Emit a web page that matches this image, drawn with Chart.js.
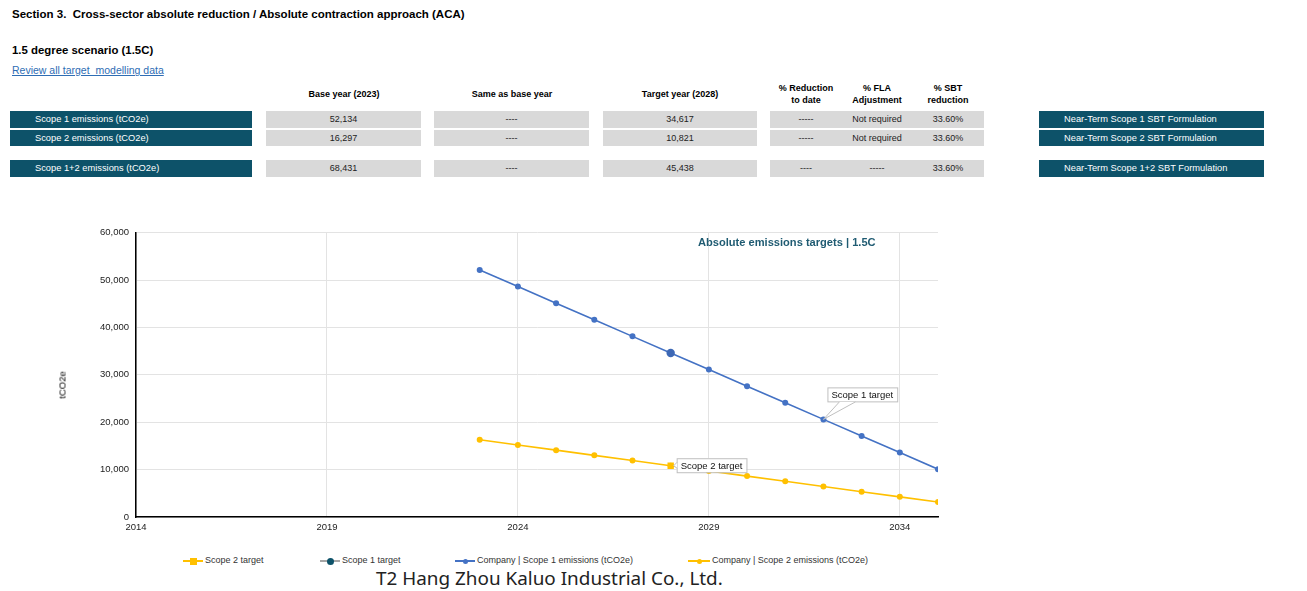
<!DOCTYPE html>
<html>
<head>
<meta charset="utf-8">
<script src="https://cdn.jsdelivr.net/npm/chart.js@4.4.1/dist/chart.umd.min.js"></script>
<style>
    body { margin: 0; background: #fff; font-family: "Liberation Sans", Arial, sans-serif; color: #000; }
    #page { position: relative; width: 1307px; height: 591px; overflow: hidden; }
    .abs { position: absolute; white-space: nowrap; }
    .h1 { left: 12px; top: 8px; font-size: 11.5px; font-weight: bold; }
    .h2 { left: 12px; top: 44px; font-size: 11.4px; font-weight: bold; }
    .link { left: 12px; top: 64px; font-size: 10.5px; color: #2e6db4; text-decoration: underline; }
    .colhead { font-size: 9px; font-weight: bold; text-align: center; line-height: 12px; transform: translateX(-50%); }
    .teal { background: #0d5269; color: #fff; font-size: 9.3px; box-sizing: border-box; padding-left: 25px; }
    .grey { background: #d9d9d9; color: #222; font-size: 9px; text-align: center; }
    .cell { font-size: 9px; color: #222; transform: translateX(-50%); }
    #chartBox { position: absolute; left: 0; top: 220px; width: 960px; height: 330px; }
    .ctitle { left: 698px; top: 236px; font-size: 11.1px; font-weight: bold; color: #1f5b72; }
    .ytitle { left: 62px; top: 385px; font-size: 9.5px; color: #000; transform: translate(-50%, -50%) rotate(-90deg); }
    .leg { top: 555px; font-size: 9px; color: #333; height: 12px; }
    .leg .ln { position: absolute; top: 5px; height: 2px; }
    .leg .mk { position: absolute; }
    .leg .tx { position: absolute; top: 0; }
    .footer { left: 376px; top: 565px; font-family: "Noto Sans", sans-serif; font-size: 18.9px; color: #222; }
</style>
</head>
<body>
<div id="page">
    <div class="abs h1">Section 3.&nbsp; Cross-sector absolute reduction / Absolute contraction approach (ACA)</div>
    <div class="abs h2">1.5 degree scenario (1.5C)</div>
    <div class="abs link">Review all target&nbsp; modelling data</div>
    <div id="chartBox"><canvas id="emissionsChart"></canvas></div>
    <div class="abs ctitle">Absolute emissions targets | 1.5C</div>
    <div class="abs ytitle">tCO2e</div>
    <div class="abs footer">T2 Hang Zhou Kaluo Industrial Co., Ltd.</div>
</div>

<script>
// Summary table
const rowLabels = ['Scope 1 emissions (tCO2e)', 'Scope 2 emissions (tCO2e)', 'Scope 1+2 emissions (tCO2e)'];
const baseYearValues = ['52,134', '16,297', '68,431'];
const sameAsBaseValues = ['----', '----', '----'];
const targetYearValues = ['34,617', '10,821', '45,438'];
const reductionToDate = ['-----', '-----', '----'];
const flaAdjustment = ['Not required', 'Not required', '-----'];
const sbtReduction = ['33.60%', '33.60%', '33.60%'];
const formulationLabels = ['Near-Term Scope 1 SBT Formulation', 'Near-Term Scope 2 SBT Formulation', 'Near-Term Scope 1+2 SBT Formulation'];

// Chart data
const years = [2023, 2024, 2025, 2026, 2027, 2028, 2029, 2030, 2031, 2032, 2033, 2034, 2035];
const scope1Emissions = [52134, 48631, 45127, 41624, 38120, 34617, 31113, 27610, 24106, 20603, 17099, 13596, 10092];
const scope2Emissions = [16297, 15202, 14107, 13011, 11916, 10821, 9726, 8631, 7535, 6440, 5345, 4250, 3154];
const targetYear = 2028;
const scope1Target = 34617;
const scope2Target = 10821;
const xTicks = [2014, 2019, 2024, 2029, 2034];
const seriesNames = ['Scope 2 target', 'Scope 1 target', 'Company | Scope 1 emissions (tCO2e)', 'Company | Scope 2 emissions (tCO2e)'];

const BLUE = '#4472c4';
const YELLOW = '#ffc000';
const TEAL = '#0d5269';

document.addEventListener('DOMContentLoaded', function() {
    const page = document.getElementById('page');

    function addDiv(cls, text, style) {
        const d = document.createElement('div');
        d.className = 'abs ' + cls;
        d.innerHTML = text;
        Object.assign(d.style, style);
        page.appendChild(d);
        return d;
    }

    // column headers
    addDiv('colhead', 'Base year (2023)', { left: '344px', top: '88px' });
    addDiv('colhead', 'Same as base year', { left: '512px', top: '88px' });
    addDiv('colhead', 'Target year (2028)', { left: '680px', top: '88px' });
    addDiv('colhead', '% Reduction<br>to date', { left: '806px', top: '82px' });
    addDiv('colhead', '% FLA<br>Adjustment', { left: '877px', top: '82px' });
    addDiv('colhead', '% SBT<br>reduction', { left: '948px', top: '82px' });

    const rowTops = [111, 130, 160];
    const rowHeights = [17, 16, 17];
    rowLabels.forEach(function(label, i) {
        const top = rowTops[i], h = rowHeights[i];
        const lh = { top: top + 'px', height: h + 'px', lineHeight: h + 'px' };
        addDiv('teal', label, Object.assign({ left: '10px', width: '242px' }, lh));
        addDiv('grey', baseYearValues[i], Object.assign({ left: '266px', width: '155px' }, lh));
        addDiv('grey', sameAsBaseValues[i], Object.assign({ left: '434px', width: '155px' }, lh));
        addDiv('grey', targetYearValues[i], Object.assign({ left: '603px', width: '154px' }, lh));
        addDiv('grey', '', Object.assign({ left: '770px', width: '214px' }, lh));
        addDiv('cell', reductionToDate[i], Object.assign({ left: '806px' }, lh));
        addDiv('cell', flaAdjustment[i], Object.assign({ left: '877px' }, lh));
        addDiv('cell', sbtReduction[i], Object.assign({ left: '948px' }, lh));
        addDiv('teal', formulationLabels[i], Object.assign({ left: '1039px', width: '225px' }, lh));
    });

    // legend (line + marker swatches)
    const legendItems = [
        { x: 183, line: YELLOW, marker: YELLOW, shape: 'rect', size: 7 },
        { x: 320, line: '#a6a6a6', marker: TEAL, shape: 'circle', size: 7 },
        { x: 455, line: BLUE, marker: BLUE, shape: 'circle', size: 5 },
        { x: 688, line: YELLOW, marker: YELLOW, shape: 'circle', size: 5 }
    ];
    legendItems.forEach(function(item, i) {
        const wrap = addDiv('leg', '', { left: item.x + 'px' });
        const w = i === 3 ? 22 : 20;
        const ln = document.createElement('div');
        ln.className = 'ln';
        Object.assign(ln.style, { left: '0px', width: w + 'px', background: item.line });
        const mk = document.createElement('div');
        mk.className = 'mk';
        Object.assign(mk.style, {
            left: (w / 2 - item.size / 2) + 'px', top: (6 - item.size / 2) + 'px',
            width: item.size + 'px', height: item.size + 'px', background: item.marker,
            borderRadius: item.shape === 'circle' ? '50%' : '0'
        });
        const tx = document.createElement('div');
        tx.className = 'tx';
        tx.style.left = (w + 2) + 'px';
        tx.textContent = seriesNames[i];
        wrap.appendChild(ln); wrap.appendChild(mk); wrap.appendChild(tx);
    });

    // callout labels drawn on top of the points
    const callouts = [
        { text: 'Scope 1 target', x: 2032, y: scope1Emissions[years.indexOf(2032)], dx: 4, dy: -32, wedge: 'below' },
        { text: 'Scope 2 target', x: targetYear, y: scope2Target, dx: 6, dy: -7.5, wedge: 'left' }
    ];
    const calloutPlugin = {
        id: 'callouts',
        afterDatasetsDraw(chart) {
            const ctx = chart.ctx;
            const xs = chart.scales.x, ys = chart.scales.y;
            ctx.save();
            ctx.font = '9.5px "Liberation Sans", Arial, sans-serif';
            callouts.forEach(function(c) {
                const ax = xs.getPixelForValue(c.x), ay = ys.getPixelForValue(c.y);
                const bx = ax + c.dx, by = ay + c.dy;
                const bw = ctx.measureText(c.text).width + 8, bh = 14;
                ctx.fillStyle = '#fff';
                ctx.strokeStyle = '#bfbfbf';
                ctx.lineWidth = 1;
                ctx.fillRect(bx, by, bw, bh);
                ctx.strokeRect(bx + 0.5, by + 0.5, bw, bh);
                ctx.beginPath();
                if (c.wedge === 'below') {
                    ctx.moveTo(bx + 12, by + bh + 0.5);
                    ctx.lineTo(ax, ay);
                    ctx.lineTo(bx + 28, by + bh + 0.5);
                } else {
                    ctx.moveTo(bx + 0.5, by + 4);
                    ctx.lineTo(ax + 3, ay);
                    ctx.lineTo(bx + 0.5, by + 10);
                }
                ctx.fill();
                ctx.stroke();
                ctx.fillStyle = '#111';
                ctx.textBaseline = 'middle';
                ctx.fillText(c.text, bx + 4, by + bh / 2 + 1);
            });
            ctx.restore();
        }
    };

    const toPoints = function(vals) { return years.map(function(y, i) { return { x: y, y: vals[i] }; }); };

    const ctx = document.getElementById('emissionsChart').getContext('2d');
    new Chart(ctx, {
        type: 'line',
        data: {
            datasets: [
                {
                    label: seriesNames[0],
                    data: [{ x: targetYear, y: scope2Target }],
                    showLine: false,
                    pointStyle: 'rect',
                    pointRadius: 4.5,
                    pointBorderWidth: 0,
                    backgroundColor: YELLOW,
                    borderColor: YELLOW
                },
                {
                    label: seriesNames[1],
                    data: [{ x: targetYear, y: scope1Target }],
                    showLine: false,
                    pointRadius: 4.2,
                    pointBorderWidth: 0,
                    backgroundColor: '#3d68b5',
                    borderColor: '#3d68b5'
                },
                {
                    label: seriesNames[2],
                    data: toPoints(scope1Emissions),
                    borderColor: BLUE,
                    backgroundColor: BLUE,
                    borderWidth: 1.6,
                    pointRadius: 3,
                    pointBorderWidth: 0
                },
                {
                    label: seriesNames[3],
                    data: toPoints(scope2Emissions),
                    borderColor: YELLOW,
                    backgroundColor: YELLOW,
                    borderWidth: 1.6,
                    pointRadius: 3,
                    pointBorderWidth: 0
                }
            ]
        },
        options: {
            responsive: true,
            maintainAspectRatio: false,
            animation: false,
            layout: { padding: { top: 11, right: 22, left: 0, bottom: 0 } },
            plugins: {
                legend: { display: false },
                tooltip: { enabled: false }
            },
            scales: {
                x: {
                    type: 'linear',
                    min: 2014,
                    max: 2035,
                    afterBuildTicks: function(scale) { scale.ticks = xTicks.map(function(v) { return { value: v }; }); },
                    afterFit: function(scale) { scale.height = 33; },
                    grid: { color: '#e3e3e3', drawTicks: false },
                    border: { color: '#000', width: 1.5 },
                    ticks: {
                        padding: 5,
                        color: '#222',
                        font: { family: '"Liberation Sans", Arial, sans-serif', size: 9.5 },
                        callback: function(v) { return String(v); }
                    }
                },
                y: {
                    min: 0,
                    max: 60000,
                    afterFit: function(scale) { scale.width = 136; },
                    grid: { color: '#e3e3e3', drawTicks: false },
                    border: { color: '#000', width: 1.5 },
                    ticks: {
                        stepSize: 10000,
                        padding: 7,
                        color: '#222',
                        font: { family: '"Liberation Sans", Arial, sans-serif', size: 9.5 },
                        callback: function(v) { return v.toLocaleString('en-US'); }
                    }
                }
            }
        },
        plugins: [calloutPlugin]
    });
});
</script>
</body>
</html>
